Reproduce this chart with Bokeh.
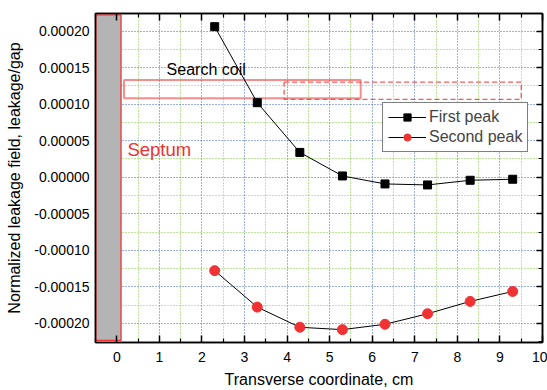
from bokeh.plotting import figure
from bokeh.models import (Range1d, LinearAxis, Legend, LegendItem, Label,
                          FixedTicker, ColumnDataSource)
from bokeh.embed import file_html
from bokeh.resources import INLINE

# Transverse positions of the search coil, cm
x_pos = [2.3, 3.3, 4.3, 5.3, 6.3, 7.3, 8.3, 9.3]
# Normalized leakage field (leakage/gap)
first_peak = [0.000206, 0.000102, 0.000034, 0.0000018,
              -0.0000091, -0.0000105, -0.0000041, -0.0000027]
second_peak = [-0.0001277, -0.0001776, -0.0002052, -0.0002084,
               -0.0002011, -0.0001867, -0.0001698, -0.0001562]

x_ticks = [0, 1, 2, 3, 4, 5, 6, 7, 8, 9, 10]
y_ticks = [-0.0002, -0.00015, -0.0001, -0.00005, 0.0, 0.00005, 0.0001, 0.00015, 0.0002]
y_tick_labels = ["-0.00020", "-0.00015", "-0.00010", "-0.00005", "0.00000",
                 "0.00005", "0.00010", "0.00015", "0.00020"]

FONT = "Liberation Sans"
RED = "#f03232"

# minor ticks halfway between majors
x_minor = [a + (b - a) / 2 for a, b in zip([-1] + x_ticks, x_ticks + [11])]
y_minor = [a + (b - a) / 2 for a, b in zip([-0.00025] + y_ticks, y_ticks + [0.00025])]
xt = FixedTicker(ticks=x_ticks, minor_ticks=x_minor)
yt = FixedTicker(ticks=y_ticks, minor_ticks=y_minor)

p = figure(width=547, height=390, output_backend="svg", toolbar_location=None,
           x_range=Range1d(-0.5, 10), y_range=Range1d(-0.000226, 0.000224),
           min_border_left=95, min_border_right=5, min_border_top=13,
           min_border_bottom=45)
p.outline_line_color = "black"
p.outline_line_width = 1.5
p.background_fill_color = "white"
p.border_fill_color = "white"

# grid: blue dotted at major, green dotted at minor
for g in (p.xgrid, p.ygrid):
    g.grid_line_color = "#3a5fcd"
    g.grid_line_dash = "1 2"
    g.grid_line_width = 1
    g.minor_grid_line_color = "#7ccd3a"
    g.minor_grid_line_dash = "1 2"
    g.minor_grid_line_width = 1
p.xgrid.ticker = xt
p.ygrid.ticker = yt
p.xaxis.ticker = xt
p.yaxis.ticker = yt

p.xaxis.axis_label = "Transverse coordinate, cm"
p.yaxis.axis_label = "Normalized leakage field, leakage/gap"
p.yaxis.major_label_overrides = {v: s for v, s in zip(y_ticks, y_tick_labels)}

for ax in (p.xaxis, p.yaxis):
    ax.axis_label_text_font = FONT
    ax.axis_label_text_font_style = "normal"
    ax.axis_label_text_font_size = "16px"
    ax.axis_label_text_color = "black"
    ax.major_label_text_font = FONT
    ax.major_label_text_font_size = "14px"
    ax.major_label_text_color = "black"
    ax.axis_line_color = "black"
    ax.axis_line_width = 1.5
    ax.major_tick_line_color = "black"
    ax.minor_tick_line_color = "black"
    ax.major_tick_line_width = 1.5
    ax.minor_tick_line_width = 1.2
    ax.major_tick_out = 0
    ax.minor_tick_out = 0

p.xaxis.major_tick_in = 7
p.xaxis.minor_tick_in = 4
p.yaxis.major_tick_in = 0
p.yaxis.minor_tick_in = 0
p.xaxis.major_label_standoff = 9
p.yaxis.major_label_standoff = 6
p.xaxis.axis_label_standoff = 6
p.yaxis.axis_label_standoff = 8

# mirrored axes on top and right, ticks only
blank_x = {v: "" for v in x_ticks}
blank_y = {v: "" for v in y_ticks}
top = LinearAxis(ticker=xt, major_label_overrides=blank_x,
                 major_tick_in=7, major_tick_out=0, minor_tick_in=4, minor_tick_out=0,
                 major_tick_line_width=1.5, minor_tick_line_width=1.2,
                 axis_line_width=1.5, major_label_standoff=0)
right = LinearAxis(ticker=yt, major_label_overrides=blank_y,
                   major_tick_in=6, major_tick_out=0, minor_tick_in=4, minor_tick_out=0,
                   major_tick_line_width=1.5, minor_tick_line_width=1.2,
                   axis_line_width=1.5, major_label_standoff=0)
p.add_layout(top, "above")
p.add_layout(right, "right")

# septum
p.quad(left=-0.49, right=0.1, bottom=-0.000223, top=0.000222,
       fill_color="#b4b4b4", line_color=RED, line_width=1.3)
p.add_layout(Label(x=0.25, y=0.0000385, text="Septum", text_color=RED,
                   text_font=FONT, text_font_size="18.5px", text_baseline="middle"))

# search coil outlines
p.quad(left=0.17, right=5.73, bottom=0.000108, top=0.000133,
       fill_color=None, line_color=RED, line_alpha=0.55, line_width=2)
p.quad(left=3.93, right=9.5, bottom=0.0001065, top=0.00013,
       fill_color=None, line_color=RED, line_alpha=0.8, line_width=1.3,
       line_dash="5 3")
p.add_layout(Label(x=1.17, y=0.000147, text="Search coil", text_color="black",
                   text_font=FONT, text_font_size="16px", text_baseline="middle"))

src = ColumnDataSource(dict(x=x_pos, a=first_peak, b=second_peak))
l1 = p.line("x", "a", source=src, line_color="black", line_width=1)
m1 = p.scatter("x", "a", source=src, marker="square", size=8,
               fill_color="black", line_color="black")
l2 = p.line("x", "b", source=src, line_color="black", line_width=1)
m2 = p.scatter("x", "b", source=src, marker="circle", size=10,
               fill_color=RED, line_color=RED)

legend = Legend(items=[LegendItem(label="First peak", renderers=[l1, m1]),
                       LegendItem(label="Second peak", renderers=[l2, m2])],
                location=(287, 190), orientation="vertical",
                label_text_font=FONT, label_text_font_size="16px",
                glyph_width=38, glyph_height=18, spacing=2,
                padding=5, margin=0, label_standoff=3,
                border_line_color="black", border_line_width=1.5,
                background_fill_color="white", background_fill_alpha=1)
p.add_layout(legend)

open("out.html", "w").write(file_html(p, INLINE))
